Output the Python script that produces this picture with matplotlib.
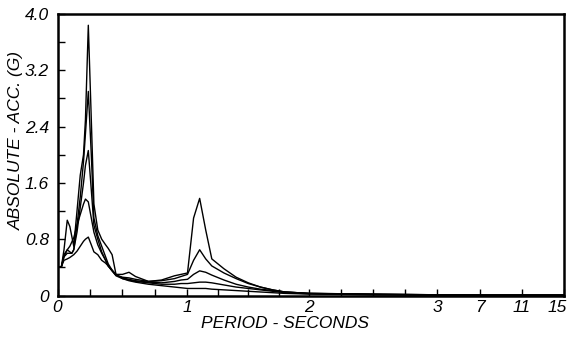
import numpy as np
import matplotlib
matplotlib.use("Agg")
import matplotlib.pyplot as plt
import matplotlib.transforms as mtransforms
from matplotlib.ticker import FixedLocator, FixedFormatter

# Periods (s)
period = [0, 0.03, 0.05, 0.075, 0.095, 0.11, 0.125, 0.15, 0.175, 0.2, 0.215,
          0.237, 0.26, 0.28, 0.31, 0.34, 0.37, 0.39, 0.42, 0.45, 0.5, 0.55,
          0.6, 0.7, 0.8, 0.9, 0.95, 1.0, 1.05, 1.1, 1.15, 1.2, 1.3, 1.4, 1.5,
          1.6, 1.7, 1.8, 2.0, 2.5, 3.0, 7, 11, 15]

acc_1 = [0.4, 0.41, 0.65, 1.07, 0.98, 0.84, 0.7, 1.2, 1.71, 2.0,
         2.5, 3.84, 2.5, 1.3, 0.93, 0.8, 0.72, 0.67, 0.58, 0.3,
         0.3, 0.33, 0.27, 0.2, 0.22, 0.28, 0.3, 0.32, 1.1, 1.38,
         0.93, 0.52, 0.38, 0.26, 0.18, 0.12, 0.08, 0.05, 0.03, 0.02,
         0.01, 0.005, 0.005, 0.005]
acc_2 = [0.4, 0.41, 0.58, 0.65, 0.62, 0.6, 0.65, 1.0, 1.4, 1.9,
         2.3, 2.9, 2.0, 1.1, 0.85, 0.7, 0.55, 0.45, 0.36, 0.29,
         0.26, 0.25, 0.23, 0.2, 0.21, 0.24, 0.27, 0.3, 0.5, 0.65,
         0.52, 0.42, 0.32, 0.24, 0.17, 0.12, 0.08, 0.05, 0.03, 0.02,
         0.01, 0.005, 0.005, 0.005]
acc_3 = [0.4, 0.41, 0.55, 0.6, 0.6, 0.6, 0.65, 0.9, 1.25, 1.6,
         1.85, 2.06, 1.5, 1.0, 0.8, 0.62, 0.5, 0.42, 0.35, 0.29,
         0.25, 0.23, 0.21, 0.19, 0.18, 0.2, 0.22, 0.23, 0.3, 0.35,
         0.33, 0.29, 0.22, 0.16, 0.12, 0.09, 0.07, 0.05, 0.03, 0.015,
         0.01, 0.005, 0.005, 0.005]
acc_4 = [0.4, 0.41, 0.55, 0.65, 0.7, 0.76, 0.82, 1.0, 1.15, 1.3,
         1.37, 1.33, 1.1, 0.9, 0.72, 0.6, 0.5, 0.42, 0.35, 0.28,
         0.24, 0.22, 0.2, 0.18, 0.16, 0.16, 0.17, 0.17, 0.18, 0.19,
         0.19, 0.18, 0.15, 0.12, 0.1, 0.08, 0.06, 0.04, 0.025, 0.012,
         0.008, 0.005, 0.005, 0.005]
acc_5 = [0.4, 0.41, 0.5, 0.52, 0.54, 0.56, 0.58, 0.63, 0.7, 0.77,
         0.8, 0.83, 0.72, 0.62, 0.58, 0.5, 0.46, 0.42, 0.36, 0.3,
         0.24, 0.21, 0.19, 0.16, 0.14, 0.12, 0.11, 0.1, 0.1, 0.1,
         0.1, 0.09, 0.08, 0.07, 0.06, 0.05, 0.04, 0.03, 0.02, 0.01,
         0.005, 0.005, 0.005, 0.005]
series = [acc_1, acc_2, acc_3, acc_4, acc_5]

x_ticks = [0, 1, 2, 3, 7, 11, 15]
x_tick_labels = ["0", "1", "2", "3", "7", "11", "15"]
y_ticks = [0, 0.8, 1.6, 2.4, 3.2, 4.0]
y_tick_labels = ["0", "0.8", "1.6", "2.4", "3.2", "4.0"]

# piecewise axis: linear 0-3, compressed 3-15
_xp = [0, 1, 2, 3, 7, 11, 15]
_fp = [0, 130, 251.5, 379.5, 422.5, 464.5, 506.5]

def fwd(x):
    return np.interp(x, _xp, _fp)

def inv(y):
    return np.interp(y, _fp, _xp)

plt.rcParams['font.family'] = ['Liberation Sans', 'DejaVu Sans']
plt.rcParams['font.style'] = 'italic'

fig = plt.figure(figsize=(5.68, 3.37), dpi=100)
ax = fig.add_axes([57.5/568, (337-295.5)/337, (564-57.5)/568, (295.5-14)/337])
ax.set_xscale('function', functions=(fwd, inv))

for s in series:
    ax.plot(period, s, color='black', lw=1.0)

ax.set_xlim(0, 15)
ax.set_ylim(0, 4.0)
ax.xaxis.set_major_locator(FixedLocator(x_ticks))
ax.xaxis.set_major_formatter(FixedFormatter(x_tick_labels))
ax.xaxis.set_minor_locator(FixedLocator([0.25, 0.5, 0.75, 1.25, 1.5, 1.75,
                                         2.25, 2.5, 2.75]))
ax.yaxis.set_major_locator(FixedLocator(y_ticks))
ax.yaxis.set_major_formatter(FixedFormatter(y_tick_labels))
ax.yaxis.set_minor_locator(FixedLocator([0.4, 1.2, 2.0, 2.8, 3.6]))

ax.tick_params(which='both', direction='in', length=5, width=1.0,
               labelsize=12.5, top=False, right=False)
ax.tick_params(axis='y', pad=6)
ax.tick_params(axis='x', pad=3)
for sp in ax.spines.values():
    sp.set_linewidth(1.8)

ax.set_xlabel("PERIOD - SECONDS", fontsize=12.5)
ax.set_ylabel("ABSOLUTE - ACC. (G)", fontsize=12.5)
ax.xaxis.set_label_coords(0.449, -0.074)
ax.yaxis.set_label_coords(-0.067, 0.549)

# nudge last x tick label so it stays inside the figure
fig.canvas.draw()
last = ax.xaxis.get_major_ticks()[-1].label1
last.set_transform(last.get_transform() +
                   mtransforms.ScaledTranslation(-5/72, 0, fig.dpi_scale_trans))

fig.savefig("out.png", dpi=100)
